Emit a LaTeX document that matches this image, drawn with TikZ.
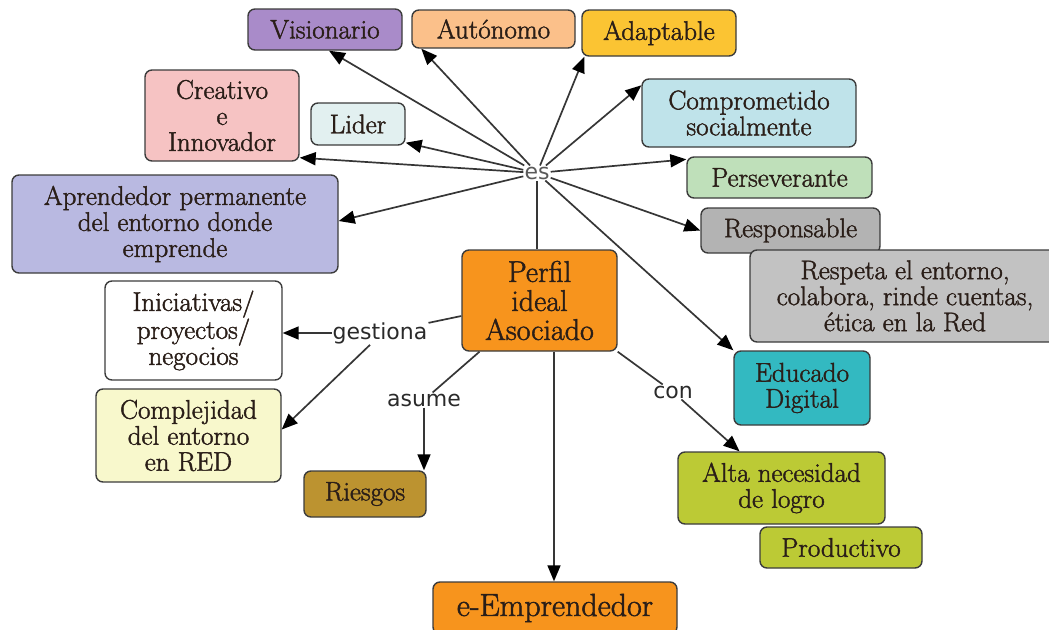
\documentclass[tikz,border=0pt]{standalone}
\usepackage{fontspec}
\newfontfamily\lblfont{DejaVu Sans}
\newfontfamily\boxfont{Latin Modern Roman}[FakeBold=1.6]
\usetikzlibrary{arrows.meta,calc}
\definecolor{boxline}{HTML}{3C3C3C}
\definecolor{txt}{HTML}{2A1E18}
\definecolor{linec}{HTML}{363636}
\definecolor{lbltxt}{HTML}{2A2A2A}
\definecolor{estxt}{HTML}{5A5A5A}
\definecolor{cvis}{HTML}{A98BC9}
\definecolor{caut}{HTML}{FBC08A}
\definecolor{cada}{HTML}{FBC433}
\definecolor{ccre}{HTML}{F6C3C3}
\definecolor{clid}{HTML}{E2F0F0}
\definecolor{ccom}{HTML}{BFE3EA}
\definecolor{cper}{HTML}{BFE0BA}
\definecolor{capr}{HTML}{B9B9E1}
\definecolor{cres}{HTML}{B3B3B3}
\definecolor{crsp}{HTML}{C2C2C2}
\definecolor{corg}{HTML}{F7941D}
\definecolor{ccpl}{HTML}{F8F8CC}
\definecolor{crie}{HTML}{BC9330}
\definecolor{cedu}{HTML}{33B9C1}
\definecolor{calt}{HTML}{BCCA35}
\begin{document}
\begin{tikzpicture}[x=1pt,y=-1pt,
  box/.style={draw=boxline, line width=1.4pt, rounded corners=7pt, align=center,
    inner sep=0pt, text=txt, font=\boxfont\fontsize{27}{26}\selectfont},
  lbl/.style={font=\lblfont\fontsize{22}{22}\selectfont, inner sep=1pt, text=lbltxt},
  link/.style={draw=linec, line width=1.7pt},
  arrowlink/.style={link, -{Triangle[length=16pt,width=13pt,color=black]}}]
\useasboundingbox (0,0) rectangle (1049,629);

% boxes
\node[box, fill=cvis, minimum width=154pt, minimum height=41pt] (vis) at (325,29.5) {Visionario};
\node[box, fill=caut, minimum width=163pt, minimum height=38pt] (aut) at (493.5,29) {Autónomo};
\node[box, fill=cada, minimum width=154pt, minimum height=46pt] (ada) at (659,33) {Adaptable};
\node[box, fill=ccre, minimum width=154pt, minimum height=91pt] (cre) at (222,115.5) {Creativo\\e\\Innovador};
\node[box, fill=clid, minimum width=94pt, minimum height=42pt] (lid) at (358,124) {Lider};
\node[box, fill=ccom, minimum width=214pt, minimum height=68pt] (com) at (749,113) {Comprometido\\socialmente};
\node[box, fill=cper, minimum width=185pt, minimum height=41pt] (per) at (779.5,177.5) {Perseverante};
\node[box, fill=capr, minimum width=326pt, minimum height=98pt] (apr) at (175,224) {Aprendedor permanente\\del entorno donde\\emprende};
\node[box, fill=cres, minimum width=179pt, minimum height=45pt] (res) at (790.5,230.5) {Responsable};
\node[box, fill=crsp, minimum width=310pt, minimum height=92pt] (rsp) at (905,296) {Respeta el entorno,\\colabora, rinde cuentas,\\ética en la Red};
\node[box, fill=corg, minimum width=155pt, minimum height=101pt, font=\boxfont\fontsize{30}{29}\selectfont] (perfil) at (539.5,300.5) {Perfil\\ideal\\Asociado};
\node[box, fill=white, minimum width=177pt, minimum height=99pt] (ini) at (193.5,330.5) {Iniciativas/\\proyectos/\\negocios};
\node[box, fill=ccpl, minimum width=185pt, minimum height=93pt] (cpl) at (188.5,435.5) {Complejidad\\del entorno\\en RED};
\node[box, fill=crie, minimum width=122pt, minimum height=46pt] (rie) at (365,494) {Riesgos};
\node[box, fill=cedu, minimum width=136pt, minimum height=74pt] (edu) at (802,388) {Educado\\Digital};
\node[box, fill=calt, minimum width=207pt, minimum height=72pt] (alt) at (781.5,488) {Alta necesidad\\de logro};
\node[box, fill=calt, minimum width=162pt, minimum height=41pt] (pro) at (841,547.5) {Productivo};
\node[box, fill=corg, minimum width=244pt, minimum height=52pt, font=\boxfont\fontsize{32}{32}\selectfont] (eem) at (555,608) {e-Emprendedor};

% labels
\node[lbl, text=estxt] (es) at (537,173) {es};
\node[lbl] (gest) at (380,333) {gestiona};
\node[lbl] (asu) at (424,400) {asume};
\node[lbl] (conl) at (673,392) {con};

% connectors
\draw[link] (perfil.north -| es) -- (es);
\draw[arrowlink] (es) -- ([xshift=4pt]vis.south);
\draw[arrowlink] (es) -- ([xshift=10pt]aut.south west);
\draw[arrowlink] (es) -- ([xshift=3pt]ada.south west);
\draw[arrowlink] (es) -- ([yshift=-7pt]com.north west);
\draw[arrowlink] (es) -- ([yshift=-3pt]per.north west);
\draw[arrowlink] (es) -- (res.west);
\draw[arrowlink] (es) -- (edu.north west);
\draw[arrowlink] (es) -- ([yshift=3pt]lid.south east);
\draw[arrowlink] (es) -- ([yshift=4pt]cre.south east);
\draw[arrowlink] (es) -- ([yshift=3pt]apr.east);

\draw[link] ([yshift=-15.5pt]perfil.west) -- (gest);
\draw[arrowlink] (gest.west) -- (gest.west -| ini.east);
\draw[arrowlink] ([xshift=-10pt]gest.south) -- ([yshift=6pt]cpl.east);

\draw[link] ([xshift=-60pt]perfil.south) -- (asu);
\draw[arrowlink] (asu.south) -- (asu.south |- rie.north);

\draw[arrowlink] ([xshift=14.5pt]perfil.south) -- ([xshift=14.5pt]perfil.south |- eem.north);

\draw[link] (perfil.south east) -- (conl);
\draw[arrowlink] (conl) -- ([xshift=-42pt]alt.north);
\end{tikzpicture}
\end{document}
